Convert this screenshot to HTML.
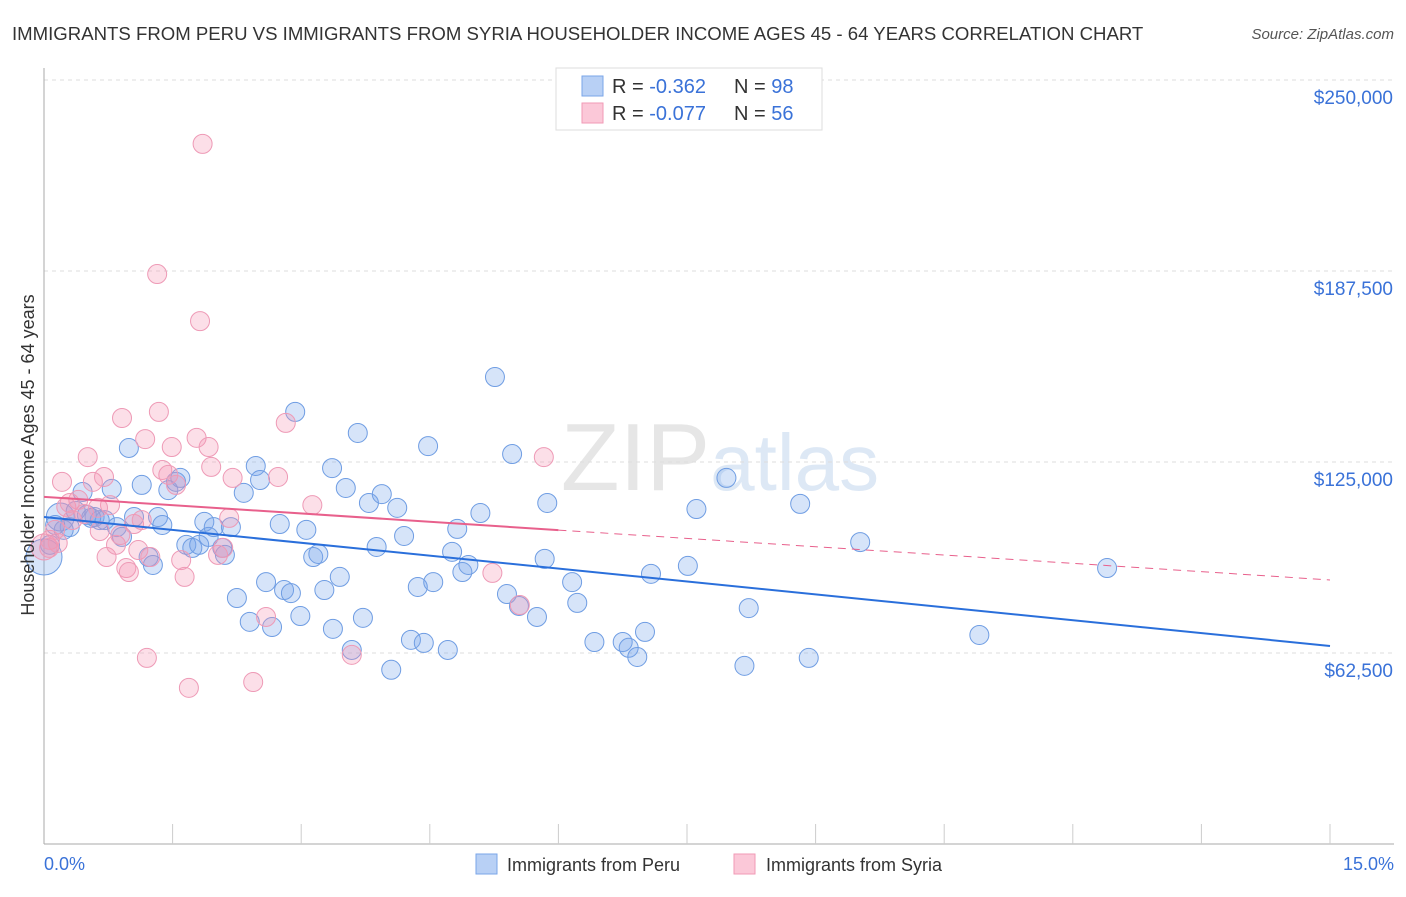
<!DOCTYPE html>
<html><head><meta charset="utf-8"><style>
body{margin:0;background:#fff;font-family:"Liberation Sans",sans-serif}
svg text{font-family:"Liberation Sans",sans-serif}
</style></head><body>
<svg id="chart" width="1406" height="892" xmlns="http://www.w3.org/2000/svg">
<text x="12" y="40" font-size="18.6" fill="#333">IMMIGRANTS FROM PERU VS IMMIGRANTS FROM SYRIA HOUSEHOLDER INCOME AGES 45 - 64 YEARS CORRELATION CHART</text>
<text x="1394" y="39" font-size="15" fill="#555" font-style="italic" text-anchor="end">Source: ZipAtlas.com</text>
<text x="720" y="490" font-size="96" fill="#e6e6e6" text-anchor="middle" font-family="Liberation Serif">ZIP<tspan fill="#dde8f5" font-family="Liberation Sans" font-size="80">atlas</tspan></text>
<g id="grid"></g>
<g id="axes"></g>
<g id="pts"></g>
<g id="trend"></g>
<text transform="translate(34,455) rotate(-90)" font-size="18" fill="#333" text-anchor="middle">Householder Income Ages 45 - 64 years</text>
<text x="44" y="870" font-size="18" fill="#3a72d8">0.0%</text>
<text x="1394" y="870" font-size="18" fill="#3a72d8" text-anchor="end">15.0%</text>
<g>
<rect x="556" y="68" width="266" height="62" fill="#fff" stroke="#ddd"/>
<rect x="582" y="76" width="21" height="20" fill="#b8d0f5" stroke="#7aa6e8"/>
<rect x="582" y="103" width="21" height="20" fill="#fbc8d8" stroke="#f09ab6"/>
<text x="612" y="93" font-size="20" fill="#333">R = <tspan fill="#3a72d8">-0.362</tspan><tspan x="734">N = </tspan><tspan fill="#3a72d8">98</tspan></text>
<text x="612" y="120" font-size="20" fill="#333">R = <tspan fill="#3a72d8">-0.077</tspan><tspan x="734">N = </tspan><tspan fill="#3a72d8">56</tspan></text>
</g>
<g>
<rect x="476" y="854" width="21" height="20" fill="#b8d0f5" stroke="#7aa6e8"/>
<text x="507" y="871" font-size="18" fill="#333">Immigrants from Peru</text>
<rect x="734" y="854" width="21" height="20" fill="#fbc8d8" stroke="#f09ab6"/>
<text x="766" y="871" font-size="18" fill="#333">Immigrants from Syria</text>
</g>
</svg>
<script>
const yTicks=[62.5,125,187.5,250];
const yTickLabels=["$62,500","$125,000","$187,500","$250,000"];
const peruX=[0,.19,.07,.30,.45,.59,.71,.79,.85,.91,.99,1.05,1.14,1.22,1.27,1.33,1.38,1.45,1.54,1.59,1.66,1.73,1.81,1.87,1.92,1.98,2.08,2.11,2.18,2.25,2.33,2.40,2.47,2.52,2.59,2.66,2.75,2.80,2.88,2.93,2.99,3.06,3.14,3.20,3.27,3.37,3.45,3.36,3.52,3.59,3.66,3.72,3.79,3.88,3.94,4.05,4.12,4.20,4.28,4.36,4.43,4.48,4.54,4.71,4.76,4.82,4.88,4.95,5.09,5.26,5.40,5.46,5.54,5.75,5.84,5.87,6.16,6.22,6.42,6.75,6.82,6.92,7.01,7.08,7.51,7.61,7.96,8.17,8.22,8.82,8.92,9.52,10.91,12.40,.50,.65,.23,.37,.55,.13];
const peruY=[93.9,107.0,97.9,103.7,115.2,107.0,106.0,116.2,103.7,100.5,129.6,107.0,117.5,93.9,91.3,107.0,104.4,115.8,118.5,119.8,97.9,96.9,97.9,105.4,100.5,103.7,96.9,94.6,103.7,80.5,114.9,72.7,123.7,119.1,85.7,71.0,104.7,83.1,82.1,141.4,74.6,102.8,93.9,94.9,83.1,70.4,87.4,123.0,116.5,63.5,134.5,74.0,111.6,97.2,114.5,57.0,110.0,100.8,66.8,84.1,65.8,130.2,85.7,63.5,95.6,103.1,89.0,91.3,108.3,152.8,81.8,127.6,77.9,74.3,93.3,111.6,85.7,78.9,66.1,66.1,64.2,61.2,69.4,88.4,91.0,109.6,119.8,58.3,77.2,111.3,60.9,98.8,68.4,90.3,107.7,106.0,102.8,109.0,106.7,104.4];
const syriaX=[0,1.32,1.82,1.85,.07,.13,.21,.26,.33,.40,.47,.51,.57,.65,.70,.73,.77,.84,.89,.91,.96,.99,1.05,1.10,1.14,1.18,1.20,1.24,1.34,1.38,1.45,1.49,1.54,1.60,1.64,1.69,1.78,1.92,1.95,2.03,2.09,2.16,2.20,2.44,2.59,2.73,2.82,3.13,3.59,5.23,5.55,5.83,.06,.16,.30,.63];
const syriaY=[97.2,186.5,171.1,229.1,99.5,102.8,118.5,110.3,106.0,112.6,108.0,126.6,118.5,102.4,120.1,93.9,110.9,97.9,101.1,139.4,90.3,89.0,104.7,96.2,106.0,132.5,60.9,93.9,141.4,122.4,120.8,129.9,117.5,92.9,87.4,51.1,132.9,129.9,123.4,94.6,96.9,106.7,119.8,53.0,74.3,120.1,137.8,110.9,61.9,88.7,78.2,126.6,96.9,98.5,111.6,110.0];
const peruTrend=[107.0,64.8];
const syriaTrend=[113.6,86.4];
const NS="http://www.w3.org/2000/svg";
const X0=44,X1=1330,Y0=844,Y250=80;
const xs=v=>X0+v/15*(X1-X0);
const ys=v=>Y0-v/250*(Y0-Y250);
function mk(t,a,p){const e=document.createElementNS(NS,t);for(const k in a)e.setAttribute(k,a[k]);p.appendChild(e);return e;}
const grid=document.getElementById('grid'),axes=document.getElementById('axes'),pts=document.getElementById('pts'),tr=document.getElementById('trend');
yTicks.forEach((v,i)=>{const l=mk('line',{x1:X0,x2:1394,y1:ys(v),y2:ys(v),stroke:'#ddd','stroke-dasharray':'4,4'},grid);


const t=mk('text',{x:1393,y:ys(v)+24,'font-size':19,fill:'#3a72d8','text-anchor':'end'},grid);t.textContent=yTickLabels[i];

});
mk('line',{x1:X0,x2:X0,y1:68,y2:Y0,stroke:'#aaa'},axes);
mk('line',{x1:X0,x2:1394,y1:Y0,y2:Y0,stroke:'#aaa'},axes);
for(let i=1;i<=10;i++){mk('line',{x1:xs(i*1.5),x2:xs(i*1.5),y1:Y0-20,y2:Y0,stroke:'#ccc'},axes);}
function draw(xa,ya,fill,stroke,name,big){xa.forEach((x,i)=>{let r=9.5;if(i===0)r=big[0];if(i===1&&big[1])r=big[1];
const c=mk('circle',{cx:xs(x),cy:ys(ya[i]),r:r,fill:fill,stroke:stroke,'stroke-width':1},pts);

});}
draw(peruX,peruY,'rgba(120,165,235,0.3)','#6f9de3','peru-point',[18,14]);
draw(syriaX,syriaY,'rgba(245,150,180,0.3)','#ee9ab6','syria-point',[13,0]);
const pl=mk('line',{x1:xs(0),y1:ys(peruTrend[0]),x2:xs(15),y2:ys(peruTrend[1]),stroke:'#2a6fdb','stroke-width':2},tr);


const sm=syriaTrend[0]+(syriaTrend[1]-syriaTrend[0])*6/15;
const sl=mk('line',{x1:xs(0),y1:ys(syriaTrend[0]),x2:xs(6),y2:ys(sm),stroke:'#e8608c','stroke-width':2},tr);


const sd=mk('line',{x1:xs(6),y1:ys(sm),x2:xs(15),y2:ys(syriaTrend[1]),stroke:'#e8608c','stroke-width':1,'stroke-dasharray':'8,6'},tr);


</script>
</body></html>
